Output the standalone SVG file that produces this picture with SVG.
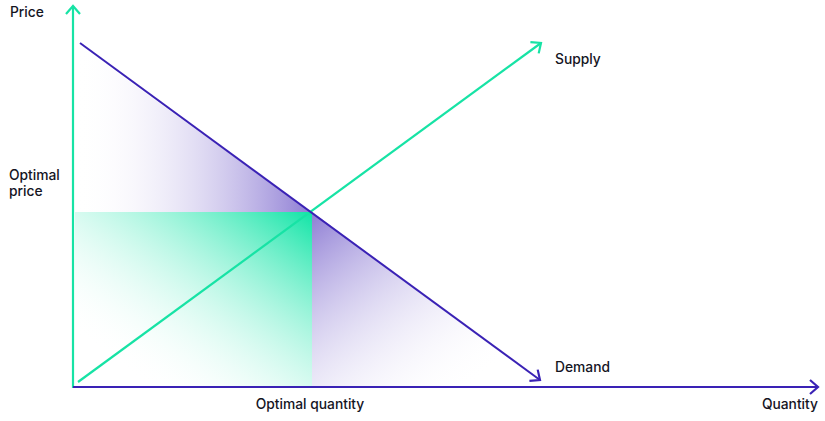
<svg xmlns="http://www.w3.org/2000/svg" width="825" height="421" viewBox="0 0 825 421">
<style>
.lbl{font-family:Inter,"Liberation Sans",Arial,sans-serif;font-size:13.8px;font-weight:500;fill:#15151f}
.green{stroke:#17e3a5;stroke-width:2.2;fill:none}
.purple{stroke:#3a22b5;stroke-width:2;fill:none}
</style>
<defs>
<linearGradient id="gTop" x1="0" y1="0" x2="1" y2="0">
<stop offset="0" stop-color="#ffffff" stop-opacity="0"/>
<stop offset="1" stop-color="#8e7dd4"/>
</linearGradient>
<linearGradient id="gGreen" x1="0" y1="1" x2="1" y2="0">
<stop offset="0.15" stop-color="#ffffff" stop-opacity="0"/>
<stop offset="1" stop-color="#10e4a6"/>
</linearGradient>
<linearGradient id="gRight" x1="0" y1="0" x2="1" y2="1">
<stop offset="0" stop-color="#8e7dd4"/>
<stop offset="0.85" stop-color="#ffffff" stop-opacity="0"/>
</linearGradient>
<marker id="arrG" markerUnits="userSpaceOnUse" viewBox="-10 -8 12 16" refX="0" refY="0" markerWidth="12" markerHeight="16" orient="auto">
<path d="M-8,-7 L0,0 L-8,7" fill="none" stroke="#17e3a5" stroke-width="2.2"/>
</marker>
<marker id="arrP" markerUnits="userSpaceOnUse" viewBox="-10 -8 12 16" refX="0" refY="0" markerWidth="12" markerHeight="16" orient="auto">
<path d="M-8,-7 L0,0 L-8,7" fill="none" stroke="#3a22b5" stroke-width="2.2"/>
</marker>
</defs>
<g id="areas">
<polygon id="consumer-surplus" points="76,43 311,212 76,212" fill="url(#gTop)"/>
<rect id="revenue" x="75" y="212" width="237" height="174" fill="url(#gGreen)"/>
<polygon id="deadweight" points="312,212 540,380 540,386 312,386" fill="url(#gRight)"/>
</g>
<g id="connectors">
<line id="y-axis" class="green" x1="73" y1="388" x2="73" y2="6" marker-end="url(#arrG)"/>
<line id="x-axis" class="purple" x1="73" y1="387" x2="818" y2="387" marker-end="url(#arrP)"/>
<line id="supply" class="green" x1="78" y1="382" x2="541" y2="43" marker-end="url(#arrG)"/>
<line id="demand" class="purple" x1="80" y1="43" x2="540" y2="380" marker-end="url(#arrP)"/>
</g>
<g id="label-price"><text class="lbl" x="10" y="17">Price</text></g>
<g id="label-supply"><text class="lbl" x="555" y="64">Supply</text></g>
<g id="label-optimal-price"><text class="lbl" x="9" y="180">Optimal</text><text class="lbl" x="9" y="196">price</text></g>
<g id="label-demand"><text class="lbl" x="555" y="372">Demand</text></g>
<g id="label-optimal-quantity"><text class="lbl" x="310" y="409" text-anchor="middle">Optimal quantity</text></g>
<g id="label-quantity"><text class="lbl" x="818" y="409" text-anchor="end">Quantity</text></g>
</svg>
